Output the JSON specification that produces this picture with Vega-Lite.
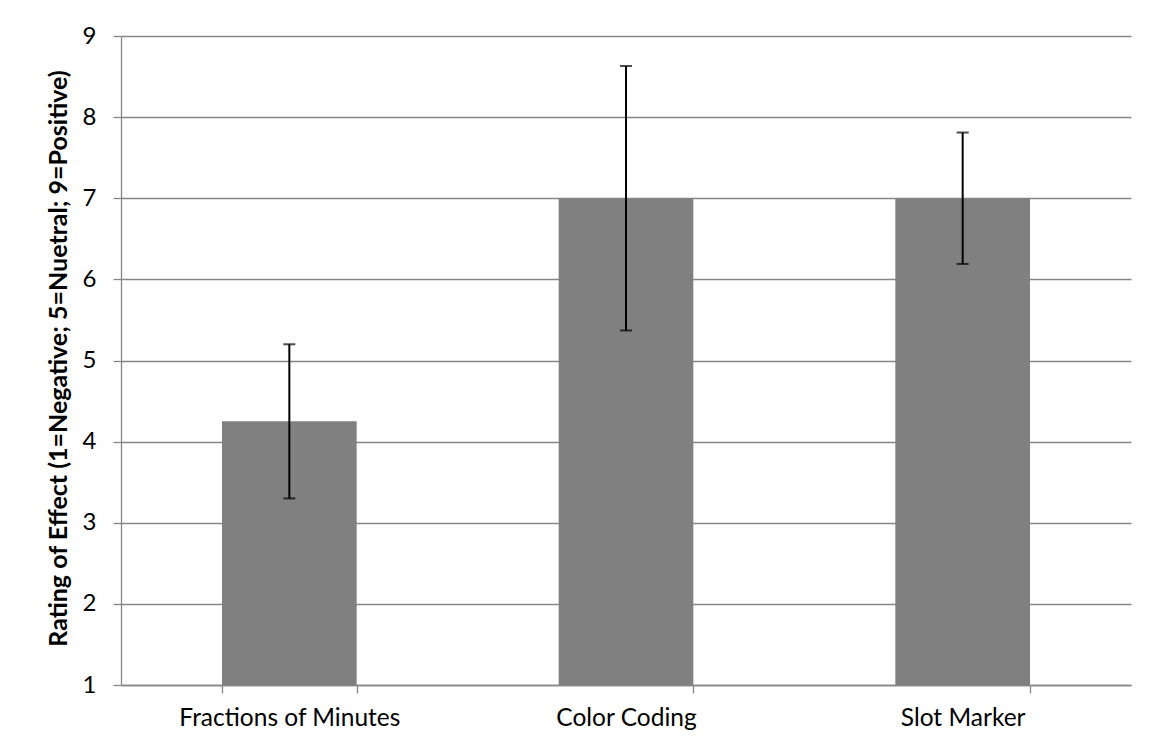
{
  "$schema": "https://vega.github.io/schema/vega-lite/v6.json",
  "width": 1010,
  "height": 649,
  "autosize": {"type": "none"},
  "padding": {"left": 121, "top": 36, "right": 20, "bottom": 62},
  "background": "white",
  "config": {
    "view": {"stroke": null},
    "font": "Lato"
  },
  "data": {
    "values": [
      {"category": "Fractions of Minutes", "rating": 4.25, "low": 3.3, "high": 5.2},
      {"category": "Color Coding", "rating": 7.0, "low": 5.37, "high": 8.63},
      {"category": "Slot Marker", "rating": 7.0, "low": 6.19, "high": 7.81}
    ]
  },
  "encoding": {
    "x": {
      "field": "category",
      "type": "nominal",
      "sort": null,
      "scale": {"paddingInner": 0.6, "paddingOuter": 0.3},
      "axis": {
        "title": null,
        "labelAngle": 0,
        "labelFontSize": 24.5,
        "labelColor": "#000000",
        "labelPadding": 13,
        "labelLimit": 0,
        "labelOverlap": false,
        "domainColor": "#868686",
        "domainWidth": 1.3,
        "tickColor": "#868686",
        "tickWidth": 1.3,
        "tickSize": 8,
        "tickBand": "extent",
        "grid": false
      }
    }
  },
  "layer": [
    {
      "mark": {"type": "bar", "color": "#808080"},
      "encoding": {
        "y": {
          "field": "rating",
          "type": "quantitative",
          "scale": {"domain": [1, 9], "nice": false, "zero": false},
          "axis": {
            "values": [1, 2, 3, 4, 5, 6, 7, 8, 9],
            "format": "d",
            "title": "Rating of Effect (1=Negative; 5=Nuetral; 9=Positive)",
            "titleFontSize": 25,
            "titleFontWeight": "bold",
            "titleColor": "#000000",
            "titleAngle": -90,
            "titleX": -63,
            "titleY": 322,
            "titleAlign": "center",
            "titleBaseline": "middle",
            "labelFontSize": 24,
            "labelColor": "#000000",
            "labelPadding": 17,
            "domainColor": "#868686",
            "domainWidth": 1.3,
            "tickColor": "#868686",
            "tickWidth": 1.3,
            "tickSize": 8,
            "gridColor": "#868686",
            "gridWidth": 1.3
          }
        },
        "y2": {"datum": 1}
      }
    },
    {
      "mark": {"type": "rule", "color": "#000000", "strokeWidth": 2},
      "encoding": {
        "y": {"field": "low", "type": "quantitative"},
        "y2": {"field": "high"}
      }
    },
    {
      "mark": {"type": "tick", "color": "#000000", "thickness": 2, "size": 12, "orient": "horizontal"},
      "encoding": {"y": {"field": "low", "type": "quantitative"}}
    },
    {
      "mark": {"type": "tick", "color": "#000000", "thickness": 2, "size": 12, "orient": "horizontal"},
      "encoding": {"y": {"field": "high", "type": "quantitative"}}
    }
  ]
}
